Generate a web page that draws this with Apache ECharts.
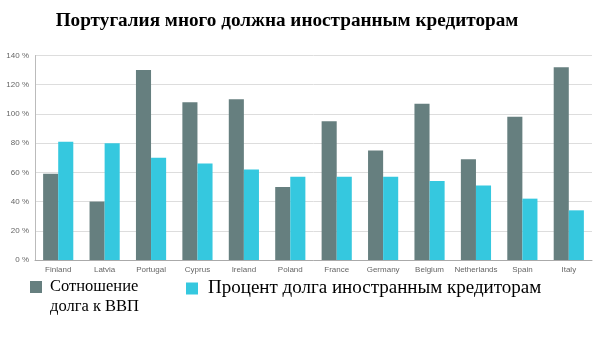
<!DOCTYPE html>
<html><head><meta charset="utf-8">
<script src="https://cdn.jsdelivr.net/npm/echarts@6/dist/echarts.min.js"></script>
<style>html,body{margin:0;padding:0;background:#fff}#c{width:598px;height:337px}</style>
</head><body><div id="c"></div>
<script>
const categories = ['Finland','Latvia','Portugal','Cyprus','Ireland','Poland','France','Germany','Belgium','Netherlands','Spain','Italy'];
const debtToGdp = [59,40,130,108,110,50,95,75,107,69,98,132];
const foreignShare = [81,80,70,66,62,57,57,57,54,51,42,34];
const seriesNames = ['Сотношение\nдолга к ВВП','Процент долга иностранным кредиторам'];
const titleText = 'Португалия много должна иностранным кредиторам';

const serif = "'Liberation Serif', 'Times New Roman', serif";
const chart = echarts.init(document.getElementById('c'));
chart.setOption({
  animation:false,
  title:{text:titleText,left:282,textAlign:'center',top:7,textStyle:{fontFamily:serif,fontWeight:'bold',fontSize:19.2,color:'#000'}},
  legend:[
    {data:[{name:seriesNames[0],icon:'path://M0 0H12V12H0Z M0 32H0.01V32.01H0Z'}],
     left:25,top:272,itemWidth:12,itemHeight:32,itemGap:0,
     textStyle:{fontFamily:serif,fontSize:16.5,color:'#000',lineHeight:20,padding:[0,0,0,3]}},
    {data:[{name:seriesNames[1],icon:'rect'}],
     left:181,top:274,itemWidth:12,itemHeight:12,
     textStyle:{fontFamily:serif,fontSize:19,color:'#000',padding:[0,0,0,5]}}
  ],
  grid:{left:35,right:6,top:55.5,bottom:77},
  xAxis:{type:'category',data:categories,
    axisLine:{lineStyle:{color:'#aaa',width:1}},axisTick:{show:false},
    axisLabel:{interval:0,color:'#666',fontSize:8,fontFamily:'Liberation Sans',margin:6}},
  yAxis:{type:'value',min:0,max:140,interval:20,
    axisLine:{show:true,lineStyle:{color:'#bbb'}},
    splitLine:{lineStyle:{color:'#ddd'}},
    axisLabel:{color:'#666',fontSize:8,fontFamily:'Liberation Sans',formatter:'{value} %',margin:6}},
  series:[
    {name:seriesNames[0],type:'bar',data:debtToGdp,itemStyle:{color:'#667f7f'},barGap:'0%',barCategoryGap:'35%'},
    {name:seriesNames[1],type:'bar',data:foreignShare,itemStyle:{color:'#35c8df'}}
  ]
});
</script></body></html>
